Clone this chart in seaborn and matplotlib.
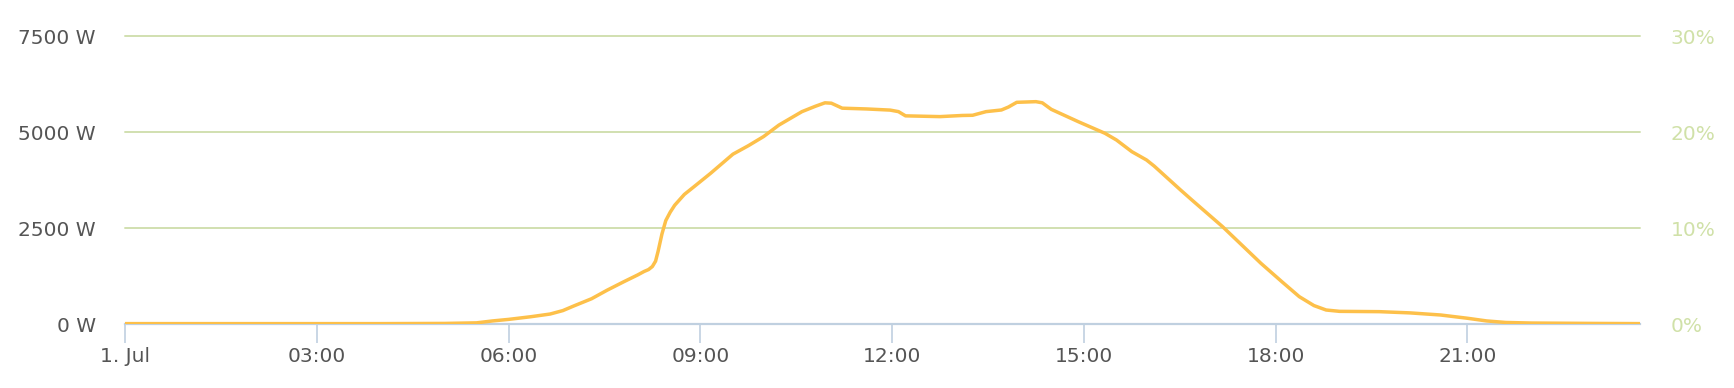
import matplotlib
matplotlib.use("Agg")
import matplotlib.pyplot as plt
import seaborn as sns
import pandas as pd
from matplotlib.ticker import FixedLocator, FixedFormatter

# ---- data (hours since midnight, 1 Jul; power in W) ----
hours = [0.0, 1.0, 2.0, 3.0, 4.0, 5.0, 5.5, 5.75, 6.0, 6.35, 6.65, 6.85, 7.02, 7.3,
         7.54, 7.8, 8.02, 8.12, 8.19, 8.25, 8.30, 8.34, 8.40, 8.46, 8.53, 8.60,
         8.75, 8.90, 9.16, 9.51, 9.75, 9.99, 10.23, 10.59, 10.8, 10.95, 11.05,
         11.22, 11.6, 11.97, 12.1, 12.21, 12.75, 13.1, 13.26, 13.47, 13.71,
         13.82, 13.95, 14.25, 14.35, 14.49, 14.91, 15.33, 15.51, 15.75, 15.98,
         16.1, 16.51, 16.69, 17.17, 17.77, 18.1, 18.37, 18.6, 18.79, 19.0,
         19.62, 20.1, 20.58, 21.0, 21.3, 21.6, 22.0, 23.0, 23.7]
power = [10, 10, 10, 10, 10, 15, 30, 80, 120, 190, 260, 350, 470, 660,
         880, 1100, 1280, 1370, 1420, 1500, 1640, 1900, 2350, 2700, 2920, 3100,
         3380, 3580, 3930, 4430, 4650, 4890, 5190, 5540, 5680, 5770, 5760,
         5630, 5610, 5580, 5540, 5430, 5410, 5440, 5445, 5540, 5583,
         5660, 5783, 5800, 5770, 5600, 5280, 4975, 4800, 4496, 4279,
         4120, 3500, 3235, 2539, 1583, 1100, 713, 480, 365, 330,
         322, 290, 235, 150, 80, 40, 25, 15, 10]

x_ticks = [0, 3, 6, 9, 12, 15, 18, 21]
x_tick_labels = ["1. Jul", "03:00", "06:00", "09:00", "12:00", "15:00", "18:00", "21:00"]
y_ticks = [0, 2500, 5000, 7500]
y_tick_labels = ["0 W", "2500 W", "5000 W", "7500 W"]
pct_ticks = [0, 10, 20, 30]
pct_tick_labels = ["0%", "10%", "20%", "30%"]

df = pd.DataFrame({"hour": hours, "power": power})

sns.set_theme(style="white")
plt.rcParams["font.family"] = ["DejaVu Sans"]

W, H = 1734, 388
fig = plt.figure(figsize=(W / 100, H / 100), dpi=100)
ax = fig.add_axes([125 / W, 1 - 324 / H, (1640 - 125) / W, (324 - 36.5) / H])

grid_c = "#D1E0B0"
axis_c = "#C0D0E0"
line_c = "#FDC04A"
label_c = "#555555"
pct_c = "#D0E1A8"

for yv in y_ticks[1:]:
    ax.axhline(yv, color=grid_c, lw=1.4, zorder=1, clip_on=False)

sns.lineplot(data=df, x="hour", y="power", ax=ax, color=line_c, lw=2.5, zorder=3)

ax.set_xlim(0, 23.7)
ax.set_ylim(0, 7500)
ax.set_xlabel("")
ax.set_ylabel("")

for s in ["top", "right", "left"]:
    ax.spines[s].set_visible(False)
ax.spines["bottom"].set_color(axis_c)
ax.spines["bottom"].set_linewidth(1.6)
ax.spines["bottom"].set_zorder(2)

ax.xaxis.set_major_locator(FixedLocator(x_ticks))
ax.xaxis.set_major_formatter(FixedFormatter(x_tick_labels))
ax.yaxis.set_major_locator(FixedLocator(y_ticks))
ax.yaxis.set_major_formatter(FixedFormatter(y_tick_labels))

ax.tick_params(axis="x", bottom=True, length=13.5, width=1.2, color=axis_c,
               labelsize=14.5, labelcolor=label_c, pad=3)
ax.tick_params(axis="y", left=False, length=0, labelsize=14.5, labelcolor=label_c, pad=21)
ax.grid(False)

ax2 = ax.twinx()
ax2.set_ylim(0, 30)
ax2.yaxis.set_major_locator(FixedLocator(pct_ticks))
ax2.yaxis.set_major_formatter(FixedFormatter(pct_tick_labels))
ax2.tick_params(axis="y", right=False, length=0, labelsize=14.5, labelcolor=pct_c, pad=22)
for s in ["top", "right", "left", "bottom"]:
    ax2.spines[s].set_visible(False)
ax2.grid(False)

fig.savefig("out.png", dpi=100, facecolor="white")
